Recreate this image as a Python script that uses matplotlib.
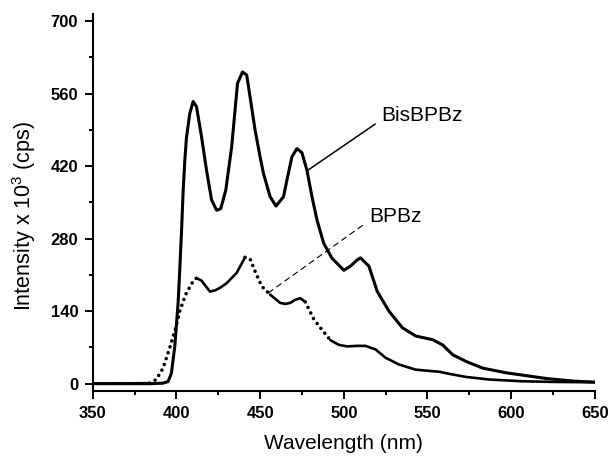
import numpy as np
import matplotlib
matplotlib.use('Agg')
from matplotlib import pyplot as plt
from matplotlib.ticker import MultipleLocator

plt.rcParams['font.family'] = ['Liberation Sans', 'DejaVu Sans']
plt.rcParams['mathtext.fontset'] = 'custom'
plt.rcParams['mathtext.rm'] = 'Liberation Sans'

# BisBPBz emission spectrum (wavelength nm, intensity x 10^3 cps)
bis_wl = [350, 385, 392, 395, 397, 399, 401, 402, 403, 404, 405, 406, 408, 410, 412,
          415, 418, 421, 424, 426.5, 429.5, 433, 436.5, 439.5, 442, 444, 447, 450,
          452, 456, 459.5, 464, 466, 469, 472, 475, 478, 481, 484, 488, 493, 497,
          500, 504, 508, 510, 515, 520, 527, 535, 543, 553, 559, 565, 573, 583,
          597, 609, 621, 637, 650]
bis_int = [0, 0, 1, 4, 20, 71, 155, 220, 290, 370, 430, 475, 522, 545, 535,
           477, 412, 355, 335, 338, 374, 457, 580, 602, 596, 554, 490, 438,
           406, 361, 343, 361, 393, 438, 454, 446, 412, 361, 316, 271, 242, 229,
           219, 227, 239, 243, 227, 178, 140, 108, 92, 85, 75, 56, 43, 30,
           21, 15.5, 10, 5, 3]

# BPBz emission spectrum
bp_wl = [350, 384, 388, 392, 396, 399.5, 402, 405.5, 410, 412, 415, 420, 423, 426,
         430, 436, 441, 444, 447, 451, 456, 462, 465, 468, 471, 474, 477, 482,
         486, 492, 497, 502, 508, 513, 519, 525, 533, 543, 557, 563, 573, 587,
         607, 627, 650]
bp_int = [0, 1, 8, 30, 69, 107, 140, 172, 198, 204, 199, 178, 180, 185,
          194, 214, 244, 241, 217, 188, 172, 156, 154, 156, 162, 165, 158, 125,
          108, 84, 75, 72, 73, 73, 66, 50, 37, 27, 23, 19, 13, 8,
          4.6, 3.3, 2.7]

# wavelength ranges where the BPBz trace shows up as separated dots
dotted_ranges = [(384, 412), (441, 456), (477, 492)]

fig = plt.figure(figsize=(6.12, 4.57), dpi=100)
ax = fig.add_axes([0.1515, 0.1438, 0.8205, 0.8256])

bp_x = np.array(bp_wl)
bp_y = np.array(bp_int)
edges = [bp_x[0]] + [v for r in dotted_ranges for v in r] + [bp_x[-1]]
for i in range(len(edges) - 1):
    m = (bp_x >= edges[i]) & (bp_x <= edges[i + 1])
    if i % 2 == 1:
        ax.plot(bp_x[m], bp_y[m], color='black', lw=2.6,
                linestyle=(0, (0.01, 1.7)), dash_capstyle='round')
    else:
        ax.plot(bp_x[m], bp_y[m], color='black', lw=1.9, solid_capstyle='round')

ax.plot(bis_wl, bis_int, color='black', lw=2.2, solid_joinstyle='round')

ax.annotate('BisBPBz', xy=(478.4, 412), xytext=(522.5, 517),
            fontsize=15, va='center', ha='left',
            arrowprops=dict(arrowstyle='-', lw=1.1, color='black',
                            shrinkA=3, shrinkB=0, relpos=(0, 0.3)))
ax.annotate('BPBz', xy=(453.9, 173), xytext=(515.5, 323),
            fontsize=15, va='center', ha='left',
            arrowprops=dict(arrowstyle='-', lw=0.8, color='black',
                            linestyle=(0, (5, 4)),
                            shrinkA=4, shrinkB=0, relpos=(0, 0.3)))

ax.set_xlim(350, 650)
ax.set_ylim(-14.7, 714)
ax.xaxis.set_major_locator(MultipleLocator(50))
ax.xaxis.set_minor_locator(MultipleLocator(25))
ax.yaxis.set_major_locator(MultipleLocator(140))
ax.yaxis.set_minor_locator(MultipleLocator(70))

for s in ['top', 'right']:
    ax.spines[s].set_visible(False)
for s in ['left', 'bottom']:
    ax.spines[s].set_linewidth(1.5)

ax.tick_params(which='major', direction='out', length=5.5, width=1.4, pad=5)
ax.tick_params(which='minor', direction='out', length=3, width=1.4)
for lbl in ax.get_xticklabels() + ax.get_yticklabels():
    lbl.set_fontweight('bold')
    lbl.set_fontsize(12)

ax.set_xlabel('Wavelength (nm)', fontsize=15)
ax.set_ylabel(r'Intensity x 10$^3$ (cps)', fontsize=15.5)
ax.xaxis.set_label_coords(0.5, -0.112)
ax.yaxis.set_label_coords(-0.108, 0.465)

fig.savefig('out.png', dpi=100)
